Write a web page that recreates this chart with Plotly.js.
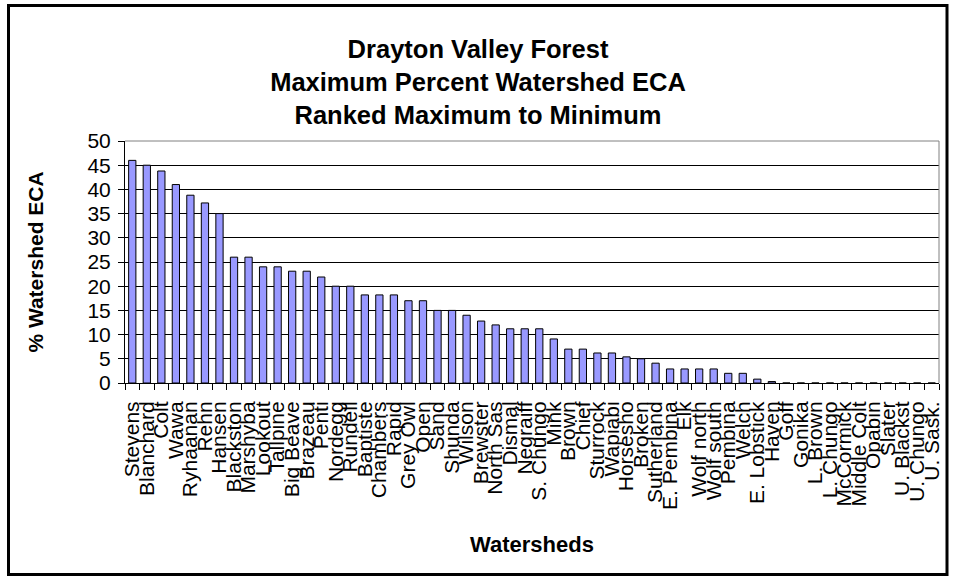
<!DOCTYPE html>
<html>
<head>
<meta charset="utf-8">
<script src="https://cdn.plot.ly/plotly-3.0.1.min.js"></script>
<style>
html,body{margin:0;padding:0;background:#fff;}
#chart{width:956px;height:579px;}
</style>
</head>
<body>
<div id="chart"></div>
<script>
// ---- data ----
const watersheds = [
  "Stevens","Blanchard","Colt","Wawa","Ryhaanan","Rehn","Hansen","Blackston",
  "Marshyba","Lookout","Tallpine","Big Beave","Brazeau","Penti","Nordegg","Rundell",
  "Baptiste","Chambers","Rapid","Grey Owl","Open","Sand","Shunda","Wilson",
  "Brewster","North Sas","Dismal","Negraiff","S. Chungo","Mink","Brown","Chief",
  "Sturrock","Wapiabi","Horsesho","Broken","Sutherland","E. Pembina","Elk","Wolf north",
  "Wolf south","Pembina","Welch","E. Lobstick","Haven","Goff","Gonika","L. Brown",
  "L. Chungo","McCormick","Middle Colt","Opabin","Slater","U. Blackst","U. Chungo","U. Sask."
];
const maxPercentECA = [
  46, 45, 43.8, 41, 38.8, 37.2, 35, 26,
  26, 24, 24, 23.1, 23.1, 21.9, 20, 20,
  18.2, 18.2, 18.2, 17, 17, 15, 15, 14,
  12.8, 12, 11.2, 11.2, 11.2, 9.1, 7, 7,
  6.2, 6.2, 5.4, 5, 4.1, 2.9, 2.9, 2.9,
  2.9, 2, 2, 0.8, 0.3, 0, 0, 0,
  0, 0, 0, 0, 0, 0, 0, 0
];
const yTicks = [0,5,10,15,20,25,30,35,40,45,50];
const titleLines = ["Drayton Valley Forest","Maximum Percent Watershed ECA","Ranked Maximum to Minimum"];
const yTitle = "% Watershed ECA";
const xTitle = "Watersheds";

// ---- layout geometry (pixels) ----
const W = 956, H = 579;
const M = {l:125, r:17, t:141, b:196};
const pw = W - M.l - M.r, ph = H - M.t - M.b;
const px = v => (v - M.l) / pw;
const py = v => (H - M.b - v) / ph;
const FONT = "Liberation Sans, Arial, sans-serif";

const trace = {
  type: "bar",
  x: watersheds,
  y: maxPercentECA,
  marker: {color: "#9999FF", line: {color: "#000000", width: 1}},
  hoverinfo: "x+y"
};

const layout = {
  width: W, height: H,
  margin: {l:M.l, r:M.r, t:M.t, b:M.b, pad:0},
  paper_bgcolor: "#ffffff",
  plot_bgcolor: "#ffffff",
  showlegend: false,
  bargap: 0.5,
  font: {family: FONT, color: "#000000"},
  title: {
    text: titleLines.map(s => "<b>" + s + "</b>").join("<br>"),
    font: {family: FONT, size: 25.5, color: "#000000"},
    x: 0.5, xref: "container", xanchor: "center",
    y: 1 - 58/H, yref: "container", yanchor: "top"
  },
  xaxis: {
    type: "category",
    tickmode: "array",
    tickvals: watersheds,
    ticktext: watersheds,
    tickangle: -90,
    tickfont: {family: FONT, size: 21, color: "#000000"},
    ticks: "outside", ticklen: 6, tickcolor: "#000000", tickwidth: 1,
    tickson: "boundaries",
    ticklabelstandoff: 9,
    showline: true, linecolor: "#000000", linewidth: 1,
    showgrid: false, zeroline: false,
    title: {text: "<b>" + xTitle + "</b>", font: {family: FONT, size: 22, color: "#000000"}, standoff: 27}
  },
  yaxis: {
    range: [0, 50],
    tickmode: "array",
    tickvals: yTicks,
    ticktext: yTicks.map(String),
    tickfont: {family: FONT, size: 21, color: "#000000"},
    ticks: "outside", ticklen: 6, tickcolor: "#000000", tickwidth: 1,
    ticklabelstandoff: 3,
    showline: true, linecolor: "#000000", linewidth: 1,
    showgrid: true, gridcolor: "#000000", gridwidth: 1,
    zeroline: false,
    title: {text: "<b>" + yTitle + "</b>", font: {family: FONT, size: 21, color: "#000000"}, standoff: 38}
  },
  shapes: [
    {type: "line", xref: "paper", yref: "paper", x0: 0, x1: 1, y0: 1, y1: 1,
     line: {color: "#808080", width: 1}, layer: "above"},
    {type: "line", xref: "paper", yref: "paper", x0: 1, x1: 1, y0: 0, y1: 1,
     line: {color: "#808080", width: 1}, layer: "above"},
    {type: "rect", xref: "paper", yref: "paper",
     x0: px(8.5), x1: px(947), y0: py(574.5), y1: py(5.5),
     line: {color: "#000000", width: 3}, fillcolor: "rgba(0,0,0,0)", layer: "above"}
  ]
};

Plotly.newPlot("chart", [trace], layout, {staticPlot: true, displayModeBar: false});
</script>
</body>
</html>
